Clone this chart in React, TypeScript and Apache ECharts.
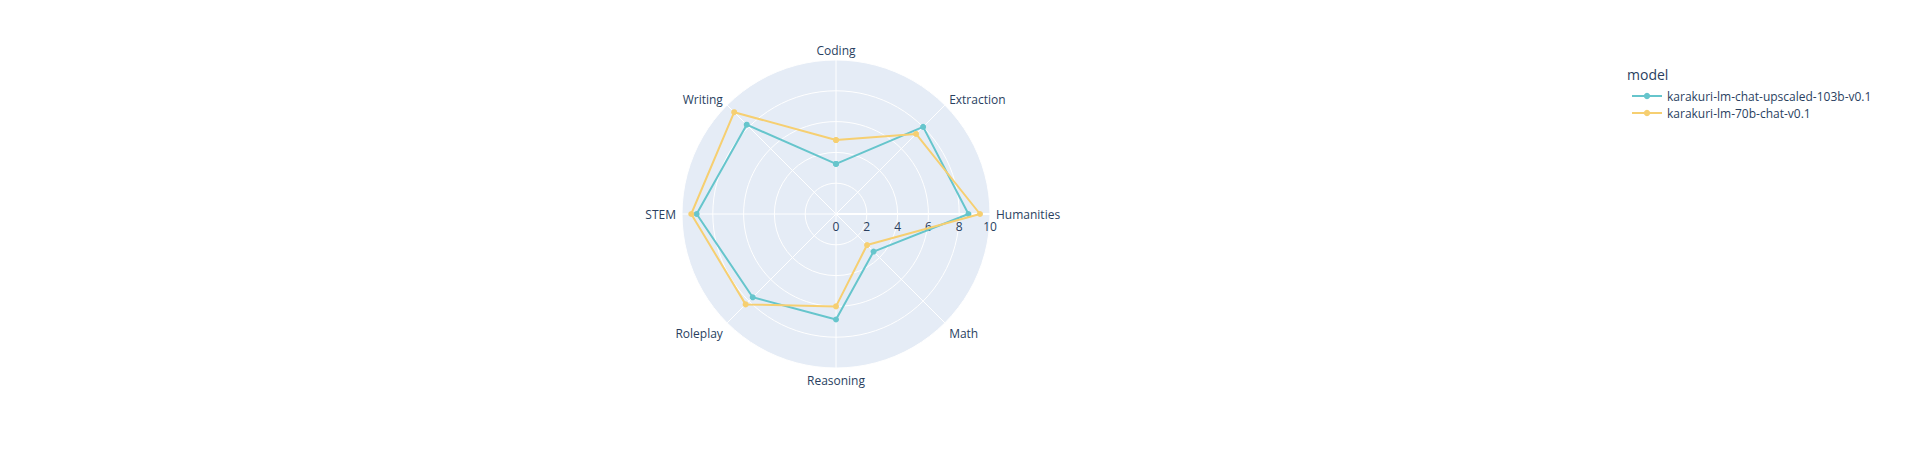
import React, { useEffect, useRef } from "react";
import * as echarts from "echarts";

const categories = ["Coding", "Extraction", "Humanities", "Math", "Reasoning", "Roleplay", "STEM", "Writing"];
const seriesNames = ["karakuri-lm-chat-upscaled-103b-v0.1", "karakuri-lm-70b-chat-v0.1"];
const upscaled103b = [3.25, 8.0, 8.6, 3.45, 6.85, 7.65, 9.05, 8.2];
const lm70b = [4.8, 7.35, 9.35, 2.85, 6.0, 8.3, 9.4, 9.35];
const colors = ["#66C5CC", "#F6CF71"];
const radialTicks = { min: 0, max: 10, interval: 2 };

const FONT = '"Open Sans", "Noto Sans", sans-serif';
const TXT = "#2a3f5f";

function closed(values: number[]) {
  const pts = values.map((v, i) => [v, i]);
  pts.push([values[0], values.length]);
  return pts;
}

export default function App() {
  const ref = useRef<HTMLDivElement>(null);
  useEffect(() => {
    if (!ref.current) return;
    const chart = echarts.init(ref.current, null, { renderer: "svg" });
    const n = categories.length;
    const center = [836, 214];
    const radius = 154;
    const base = { color: TXT, fontSize: 12, fontFamily: FONT };
    chart.setOption({
      animation: false,
      textStyle: { fontFamily: FONT },
      graphic: [
        {
          type: "circle",
          silent: true,
          z: -10,
          shape: { cx: center[0], cy: center[1], r: radius },
          style: { fill: "#E5ECF6" },
        },
      ],
      title: {
        text: "model",
        left: 1622,
        top: 62,
        textStyle: { fontFamily: FONT, fontSize: 14, fontWeight: "normal", color: TXT },
      },
      legend: {
        orient: "vertical",
        left: 1626,
        top: 85,
        itemWidth: 30,
        itemHeight: 8,
        itemGap: 5,
        textStyle: { fontFamily: FONT, fontSize: 12, color: TXT },
        data: seriesNames,
      },
      polar: [
        { center, radius },
        { center, radius },
      ],
      angleAxis: [
        {
          polarIndex: 0,
          type: "value",
          min: 0,
          max: n,
          interval: 1,
          startAngle: 90,
          clockwise: true,
          axisLine: { show: false },
          axisTick: { show: false },
          axisLabel: {
            margin: 6,
            ...base,
            formatter: (v: number) => {
              if (v >= n) return "";
              const name = categories[v];
              const ang = (v / n) * 2 * Math.PI;
              const dy = -Math.cos(ang);
              if (dy < -0.9) return `{top|${name}}`;
              if (dy < -0.3) return `{up|${name}}`;
              return `{mid|${name}}`;
            },
            rich: {
              up: { ...base, lineHeight: 2 },
              top: { ...base, lineHeight: 7 },
              mid: { ...base },
            },
          },
          splitLine: { show: true, lineStyle: { color: "#ffffff", width: 1 } },
        },
        {
          polarIndex: 1,
          type: "value",
          min: 0,
          max: 360,
          startAngle: 0,
          show: false,
        },
      ],
      radiusAxis: [
        {
          polarIndex: 0,
          ...radialTicks,
          axisLine: { show: false },
          axisTick: { show: false },
          axisLabel: { show: false },
          splitLine: { show: true, lineStyle: { color: "#ffffff", width: 1 } },
          splitArea: { show: false },
        },
        {
          polarIndex: 1,
          ...radialTicks,
          axisLine: { show: true, lineStyle: { color: "#ffffff", width: 2 } },
          axisTick: { show: false },
          axisLabel: { margin: -18, ...base },
          splitLine: { show: false },
          splitArea: { show: false },
        },
      ],
      series: [upscaled103b, lm70b].map((vals, k) => ({
        name: seriesNames[k],
        type: "line",
        coordinateSystem: "polar",
        polarIndex: 0,
        data: closed(vals),
        symbol: "circle",
        symbolSize: 6,
        showSymbol: true,
        color: colors[k],
        lineStyle: { color: colors[k], width: 2 },
        itemStyle: { color: colors[k] },
        z: 5 + k,
      })),
    });
    return () => chart.dispose();
  }, []);
  return (
    <div
      ref={ref}
      style={{ position: "fixed", left: 0, top: 0, width: 1906, height: 450, background: "#fff" }}
    />
  );
}
